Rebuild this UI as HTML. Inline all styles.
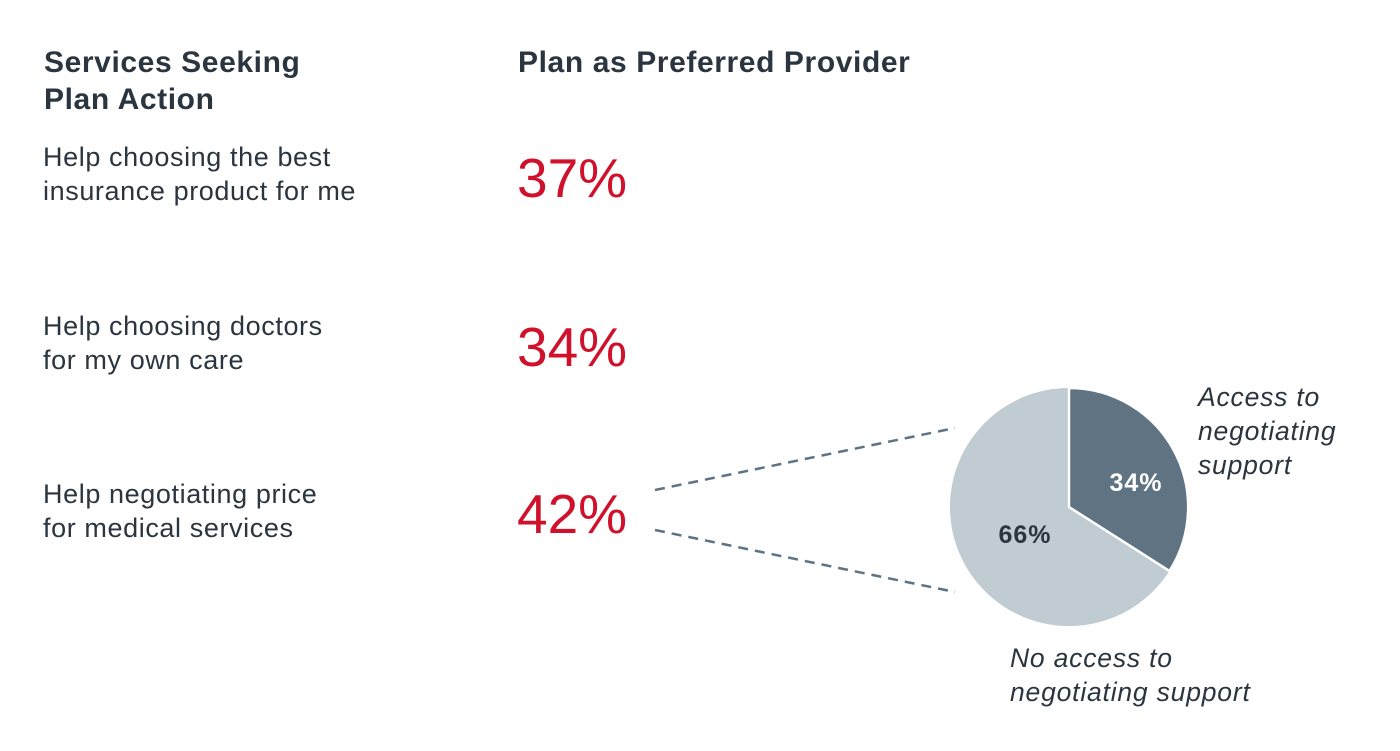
<!DOCTYPE html>
<html><head><style>
body{margin:0;width:1400px;height:751px;background:#fff;position:relative;overflow:hidden;font-family:"Liberation Sans",Arial,sans-serif;color:#2b3540}
.t{position:absolute;white-space:nowrap}
.h{font-weight:bold;font-size:30px;line-height:37px;letter-spacing:0.6px}
.b{font-size:27px;line-height:34px;letter-spacing:0.6px}
.p{font-size:55px;color:#d0112b;line-height:55px}
.i{font-style:italic;font-size:26.5px;line-height:34px;letter-spacing:0.8px}
</style></head><body>
<div class="t h" style="left:44px;top:44px">Services Seeking<br>Plan Action</div>
<div class="t h" style="left:518px;top:44px">Plan as Preferred Provider</div>
<div class="t b" style="left:43px;top:140px">Help choosing the best<br>insurance product for me</div>
<div class="t b" style="left:43px;top:309px">Help choosing doctors<br>for my own care</div>
<div class="t b" style="left:43px;top:477px">Help negotiating price<br>for medical services</div>
<div class="t p" style="left:517px;top:151px">37%</div>
<div class="t p" style="left:517px;top:320px">34%</div>
<div class="t p" style="left:517px;top:487px">42%</div>
<svg width="1400" height="751" style="position:absolute;left:0;top:0">
<line x1="655" y1="490" x2="955" y2="428" stroke="#5f7383" stroke-width="2.5" stroke-dasharray="10,7"/>
<line x1="655" y1="530" x2="955" y2="592" stroke="#5f7383" stroke-width="2.5" stroke-dasharray="10,7"/>
<circle cx="1069" cy="507" r="119" fill="#c1cbd2"/>
<path d="M1069 507 L1069 388 A119 119 0 0 1 1169.5 571 Z" fill="#5f7383" stroke="#fff" stroke-width="2.5"/>
<text x="1136" y="491" font-size="25" font-weight="bold" letter-spacing="1" fill="#fff" text-anchor="middle" font-family="Liberation Sans">34%</text>
<text x="1025" y="543" font-size="25" font-weight="bold" letter-spacing="1" fill="#2b3540" text-anchor="middle" font-family="Liberation Sans">66%</text>
</svg>
<div class="t i" style="left:1198px;top:380px">Access to<br>negotiating<br>support</div>
<div class="t i" style="left:1010px;top:641px">No access to<br>negotiating support</div>
</body></html>
